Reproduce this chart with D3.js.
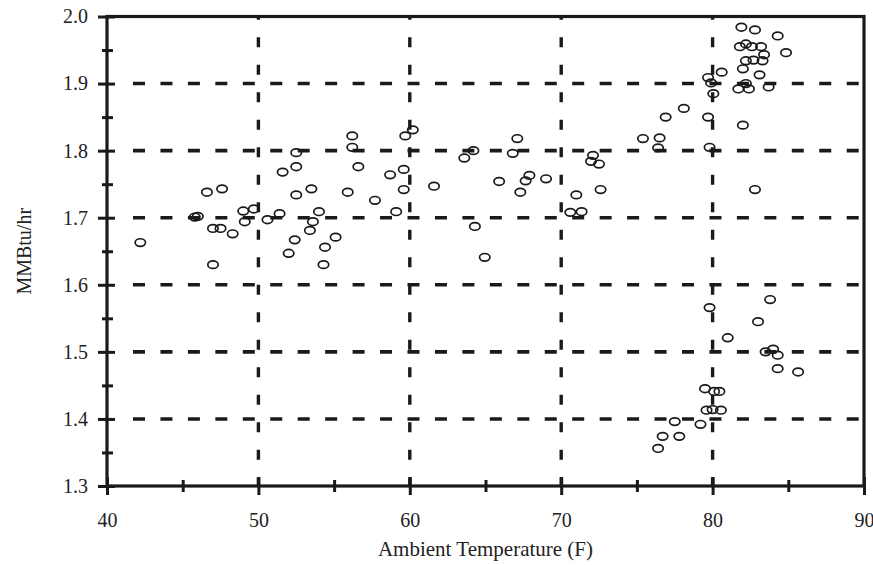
<!DOCTYPE html>
<html>
<head>
<meta charset="utf-8">
<script src="https://cdn.jsdelivr.net/npm/d3@7"></script>
<style>
  html, body { margin: 0; padding: 0; background: #fff; }
  svg text { font-family: "Liberation Serif", "DejaVu Serif", serif; fill: #222; }
</style>
</head>
<body>
<main></main>
<script>
// data: ambient temp (F) vs fuel rate (MMBtu/hr)
const temps = [
  42.2, 45.8, 46.0, 46.6, 47.6, 47.0, 47.5, 48.3, 49.0, 49.7, 49.1, 50.6, 51.4, 51.6,
  52.5, 52.5, 52.5, 53.5, 54.0, 53.6, 53.4, 52.4, 52.0, 55.1, 54.4, 47.0, 54.3,
  56.2, 56.2, 56.6, 55.9, 57.7, 58.7, 59.6, 59.6, 59.1, 59.7, 60.2, 61.6,
  63.6, 64.2, 64.3, 64.95, 67.1, 66.8, 65.9, 67.3, 67.65, 67.9, 69.0,
  72.1, 71.97, 72.5, 72.6, 71.0, 70.6, 71.35,
  75.4, 76.5, 76.4, 76.9, 78.1, 79.7, 79.8, 79.7, 79.9, 80.6, 80.05, 82.0, 82.8,
  81.9, 82.8, 84.3, 84.85, 81.8, 82.2, 82.6, 83.2, 83.4, 83.3, 82.7, 82.2, 82.0,
  83.1, 82.2, 81.7, 82.4, 83.7,
  79.8, 83.8, 83.0, 81.0, 83.5, 84.0, 84.3, 84.3, 85.65,
  79.5, 80.1, 80.45, 79.6, 80.0, 80.55, 77.5, 79.2, 76.7, 77.8, 76.4
];
const rates = [
  1.663, 1.701, 1.702, 1.738, 1.743, 1.684, 1.684, 1.676, 1.710, 1.713, 1.694, 1.697, 1.706, 1.768,
  1.797, 1.776, 1.734, 1.743, 1.709, 1.694, 1.681, 1.667, 1.647, 1.671, 1.656, 1.630, 1.630,
  1.822, 1.805, 1.776, 1.738, 1.726, 1.764, 1.772, 1.742, 1.709, 1.822, 1.831, 1.747,
  1.789, 1.800, 1.687, 1.641, 1.818, 1.796, 1.754, 1.738, 1.755, 1.763, 1.758,
  1.793, 1.784, 1.780, 1.742, 1.734, 1.708, 1.709,
  1.818, 1.819, 1.804, 1.850, 1.863, 1.850, 1.805, 1.909, 1.901, 1.917, 1.885, 1.838, 1.742,
  1.984, 1.980, 1.971, 1.946, 1.955, 1.959, 1.955, 1.955, 1.943, 1.934, 1.935, 1.934, 1.922,
  1.913, 1.900, 1.892, 1.892, 1.895,
  1.566, 1.578, 1.545, 1.521, 1.500, 1.504, 1.495, 1.475, 1.470,
  1.445, 1.441, 1.441, 1.413, 1.414, 1.413, 1.396, 1.392, 1.374, 1.374, 1.356
];
const xTicks = [40, 50, 60, 70, 80, 90];
const yTicks = [1.3, 1.4, 1.5, 1.6, 1.7, 1.8, 1.9, 2.0];
const xGrid = [50, 60, 70, 80];
const yGrid = [1.4, 1.5, 1.6, 1.7, 1.8, 1.9];
const xTitle = 'Ambient Temperature (F)';
const yTitle = 'MMBtu/hr';

const width = 873;
const height = 565;
const margin = { top: 16.5, right: 9, bottom: 79, left: 107 };

const svg = d3.select('main')
  .append('svg')
  .attr('width', width)
  .attr('height', height);

const xScale = d3.scaleLinear()
  .domain([40, 90])
  .range([margin.left, width - margin.right]);

const yScale = d3.scaleLinear()
  .domain([1.3, 2.0])
  .range([height - margin.bottom, margin.top]);

const [x0, x1] = xScale.range();
const [y0, y1] = yScale.range();

// dashed grid
svg.append('g')
  .selectAll('line')
  .data(yGrid)
  .join('line')
  .attr('x1', x0 + 26)
  .attr('x2', x1)
  .attr('y1', d => yScale(d))
  .attr('y2', d => yScale(d))
  .attr('stroke', '#1a1a1a')
  .attr('stroke-width', 3.6)
  .attr('stroke-dasharray', '12,15.45');

svg.append('g')
  .selectAll('line')
  .data(xGrid)
  .join('line')
  .attr('x1', d => xScale(d))
  .attr('x2', d => xScale(d))
  .attr('y1', y1)
  .attr('y2', y0)
  .attr('stroke', '#1a1a1a')
  .attr('stroke-width', 3.4)
  .attr('stroke-dasharray', '10,17.5')
  .attr('stroke-dashoffset', 6.7);

// axes: ticks crossing the line, minor ticks at the halves
const xAxis = svg.append('g').attr('transform', `translate(0,${y0})`);
xAxis.call(d3.axisBottom(xScale).tickValues(d3.range(45, 90, 10)).tickSize(6).tickFormat(''));
xAxis.call(g => g.selectAll('.tick line').attr('y1', -6));
const xMajor = svg.append('g').attr('transform', `translate(0,${y0})`);
xMajor.call(d3.axisBottom(xScale).tickValues(xTicks).tickSize(9).tickPadding(18).tickFormat(d3.format('d')));
xMajor.call(g => g.selectAll('.tick line').attr('y1', -9));

const yAxis = svg.append('g').attr('transform', `translate(${x0},0)`);
yAxis.call(d3.axisLeft(yScale).tickValues(d3.range(1.35, 2.0, 0.1)).tickSize(5).tickFormat(''));
yAxis.call(g => g.selectAll('.tick line').attr('x1', 6));
const yMajor = svg.append('g').attr('transform', `translate(${x0},0)`);
yMajor.call(d3.axisLeft(yScale).tickValues(yTicks).tickSize(9).tickPadding(10).tickFormat(d3.format('.1f')));
yMajor.call(g => g.selectAll('.tick line').attr('x1', 8));

svg.selectAll('.domain').remove();
svg.selectAll('.tick line').attr('stroke', '#1a1a1a').attr('stroke-width', 3);
svg.selectAll('.tick text').attr('font-size', 20).attr('fill', '#222')
  .attr('font-family', '"Liberation Serif", serif');

// frame
svg.append('rect')
  .attr('x', x0)
  .attr('y', y1)
  .attr('width', x1 - x0)
  .attr('height', y0 - y1)
  .attr('fill', 'none')
  .attr('stroke', '#1a1a1a')
  .attr('stroke-width', 3.2);

// points
svg.append('g')
  .selectAll('ellipse')
  .data(temps.map((t, i) => [t, rates[i]]))
  .join('ellipse')
  .attr('cx', d => xScale(d[0]))
  .attr('cy', d => yScale(d[1]))
  .attr('rx', 5.2)
  .attr('ry', 3.8)
  .attr('fill', 'none')
  .attr('stroke', '#1a1a1a')
  .attr('stroke-width', 1.7);

// titles
svg.append('text')
  .attr('x', (x0 + x1) / 2)
  .attr('y', 556)
  .attr('text-anchor', 'middle')
  .attr('font-size', 21)
  .text(xTitle);

svg.append('text')
  .attr('transform', `translate(31,${(y0 + y1) / 2}) rotate(-90)`)
  .attr('text-anchor', 'middle')
  .attr('font-size', 20)
  .text(yTitle);
</script>
</body>
</html>
